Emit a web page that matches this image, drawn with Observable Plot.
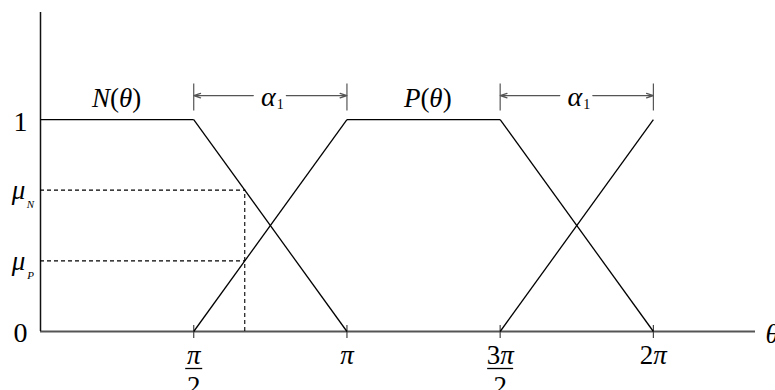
<!DOCTYPE html>
<html>
<head>
<meta charset="utf-8">
<script src="https://cdn.jsdelivr.net/npm/d3@7"></script>
<script src="https://cdn.jsdelivr.net/npm/@observablehq/plot@0.6"></script>
<style>
  body { margin: 0; background: #fff; }
  svg { display: block; }
</style>
</head>
<body>
<div id="chart"></div>
<script>
const PI = Math.PI;

// Breakpoints of the two trapezoidal membership functions over θ
const thetaBreaks = [0, PI / 2, PI, 3 * PI / 2, 2 * PI];
const nValues = [1, 1, 0, 0, 1];
const pValues = [0, 0, 1, 1, 0];

// θ-axis ticks and their fraction labels
const thetaTicks = [PI / 2, PI, 3 * PI / 2, 2 * PI];
const tickNumerators = ["π", "π", "3π", "2π"];
const tickDenominators = ["2", "", "2", ""];

// Membership-axis labels
const levelTicks = [0, 1];
const levelLabels = ["0", "1"];

// Sample angle and the memberships it reads off
const thetaSample = 2.094;
const muN = 0.667;
const muP = 0.333;

// Transition widths α1
const alphaSpans = [[PI / 2, PI], [3 * PI / 2, 2 * PI]];
const alphaLevel = 1.113;

const xMax = 7.33;
const yMax = 1.505;

// Piecewise segments of each curve; runs lying on the θ axis are left to the axis line
function segments(values) {
  const out = [];
  for (let i = 0; i < thetaBreaks.length - 1; i++) {
    if (values[i] === 0 && values[i + 1] === 0) continue;
    out.push({t1: thetaBreaks[i], t2: thetaBreaks[i + 1], m1: values[i], m2: values[i + 1]});
  }
  return out;
}
const curveSegments = [...segments(nValues), ...segments(pValues)];

// Stroke-only bar symbols (length set by r)
const vbar = {draw(ctx, size) { const r = Math.sqrt(size / Math.PI); ctx.moveTo(0, -r); ctx.lineTo(0, r); }};
const hbar = {draw(ctx, size) { const r = Math.sqrt(size / Math.PI); ctx.moveTo(-r, 0); ctx.lineTo(r, 0); }};

const serif = "'Liberation Serif', 'DejaVu Serif', serif";
const ink = "#000";

const fractionTicks = thetaTicks.map((t, i) => ({t, num: tickNumerators[i], den: tickDenominators[i]}));

const svg = Plot.plot({
  width: 775,
  height: 390,
  marginLeft: 40,
  marginRight: 20,
  marginTop: 12,
  marginBottom: 59,
  x: {domain: [0, xMax], axis: null},
  y: {domain: [0, yMax], axis: null},
  r: {type: "identity"},
  style: {fontFamily: serif, fontSize: "27px", color: ink, background: "#fff", overflow: "visible"},
  marks: [
    // axes
    Plot.ruleY([0], {x1: 0, x2: xMax, stroke: "#555", strokeWidth: 2.2}),
    Plot.ruleX([0], {y1: 0, y2: yMax, stroke: "#111", strokeWidth: 1.5}),
    Plot.dot(thetaTicks, {x: d => d, y: 0, symbol: vbar, r: 6.5, fill: "none", stroke: "#444", strokeWidth: 1.2}),

    // sample read-off lines
    Plot.ruleY([muN, muP], {x1: 0, x2: thetaSample, stroke: ink, strokeWidth: 1.1, strokeDasharray: "4,3"}),
    Plot.ruleX([thetaSample], {y1: 0, y2: muN, stroke: ink, strokeWidth: 1.1, strokeDasharray: "4,3"}),

    // membership functions N(θ) and P(θ)
    Plot.link(curveSegments, {x1: "t1", y1: "m1", x2: "t2", y2: "m2", stroke: ink, strokeWidth: 1.3}),

    // α1 dimension arrows
    Plot.arrow(alphaSpans, {x1: d => (d[0] + d[1]) / 2, x2: d => d[0], y: alphaLevel, insetStart: 17, headAngle: 36, headLength: 9, stroke: "#555", strokeWidth: 1.2}),
    Plot.arrow(alphaSpans, {x1: d => (d[0] + d[1]) / 2, x2: d => d[1], y: alphaLevel, insetStart: 16, headAngle: 36, headLength: 9, stroke: "#555", strokeWidth: 1.2}),
    Plot.dot(alphaSpans.flat(), {x: d => d, y: alphaLevel, dy: 1.5, symbol: vbar, r: 13.5, fill: "none", stroke: "#555", strokeWidth: 1.2}),
    Plot.text(alphaSpans, {x: d => (d[0] + d[1]) / 2, y: alphaLevel, text: () => "α", dx: -2, dy: 1, fontSize: 28, fill: ink}),
    Plot.text(alphaSpans, {x: d => (d[0] + d[1]) / 2, y: alphaLevel, text: () => "1", dx: 10, dy: 9, fontSize: 14, fill: ink}),

    // curve names
    Plot.text(["N(θ)"], {x: 0.78, y: 1.10, text: d => d, fill: ink}),
    Plot.text(["P(θ)"], {x: 3.97, y: 1.10, text: d => d, fill: ink}),

    // membership-axis labels
    Plot.text(levelTicks, {x: 0, y: d => d, text: (d, i) => levelLabels[i], dx: -20, dy: 2, fontSize: 28, fill: ink}),
    Plot.text([muN, muP], {x: 0, y: d => d, text: () => "μ", dx: -22, dy: 0, fill: ink}),
    Plot.text([muN, muP], {x: 0, y: d => d, text: (d, i) => ["N", "P"][i], dx: -10, dy: 14.5, fontSize: 11, fill: ink}),

    // θ-axis labels
    Plot.text(fractionTicks, {x: "t", y: 0, text: "num", dy: 24, fill: ink}),
    Plot.dot(fractionTicks.filter(d => d.den), {x: "t", y: 0, dy: 37, symbol: hbar, r: d => d.num.length > 1 ? 13 : 8.5, fill: "none", stroke: ink, strokeWidth: 1.3}),
    Plot.text(fractionTicks.filter(d => d.den), {x: "t", y: 0, text: "den", dy: 55, fill: ink}),
    Plot.text(["θ"], {x: xMax, y: 0, text: d => d, dx: 10, dy: 3, textAnchor: "start", fill: ink})
  ]
});

// Set the Greek and variable letters in italic, digits and brackets upright
const italicChars = /[πθNPμα]/;
d3.select(svg).selectAll("text").each(function () {
  const s = this.textContent;
  if (!italicChars.test(s)) return;
  this.textContent = "";
  for (const part of s.match(/[πθNPμα]+|[^πθNPμα]+/g)) {
    const t = document.createElementNS("http://www.w3.org/2000/svg", "tspan");
    t.textContent = part;
    if (italicChars.test(part)) t.setAttribute("font-style", "italic");
    this.appendChild(t);
  }
});

document.getElementById("chart").appendChild(svg);
</script>
</body>
</html>
